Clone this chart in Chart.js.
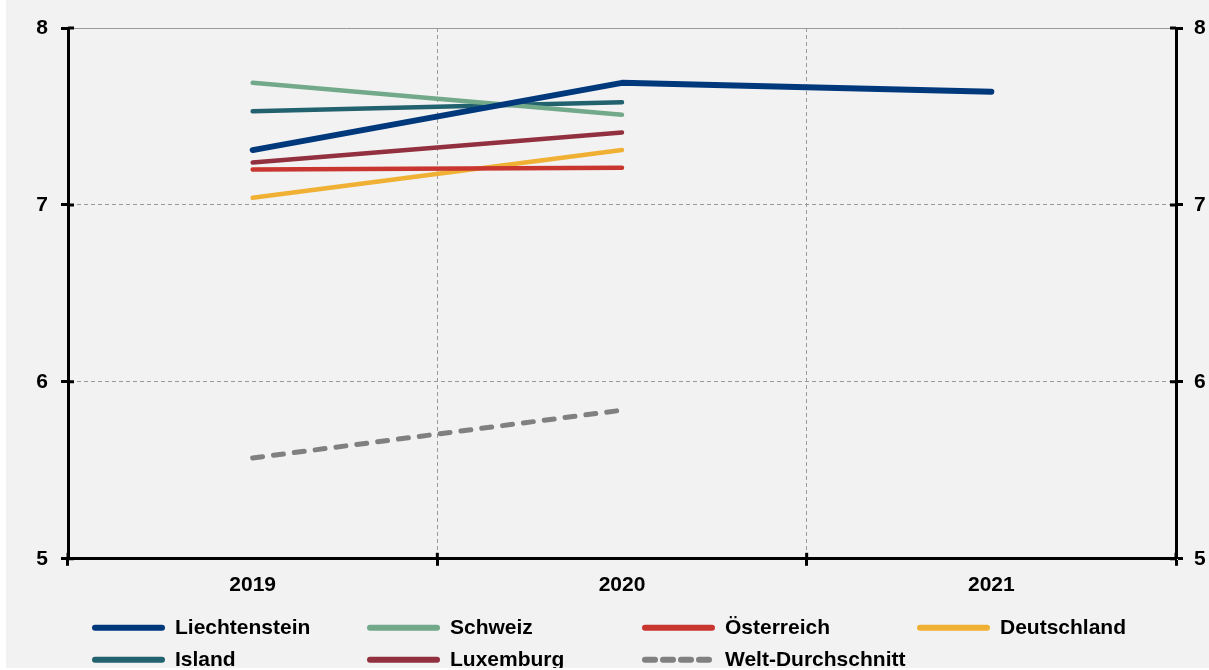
<!DOCTYPE html>
<html>
<head>
<meta charset="utf-8">
<script src="https://cdn.jsdelivr.net/npm/chart.js@4"></script>
<style>
  html, body { margin: 0; padding: 0; background: #ffffff; }
  #wrap { position: absolute; left: 6px; top: 0; width: 1203px; height: 668px; background: #f2f2f2; }
</style>
</head>
<body>
<div id="wrap"><canvas id="chart" width="1203" height="668"></canvas></div>
<script>
const years = ['2019', '2020', '2021'];
const yTicks = [5, 6, 7, 8];

const liechtenstein = [7.31, 7.69, 7.64];
const schweiz = [7.69, 7.51, null];
const oesterreich = [7.20, 7.21, null];
const deutschland = [7.04, 7.31, null];
const island = [7.53, 7.58, null];
const luxemburg = [7.24, 7.41, null];
const welt = [5.57, 5.84, null];

const names = ['Liechtenstein', 'Schweiz', 'Österreich', 'Deutschland', 'Island', 'Luxemburg', 'Welt-Durchschnitt'];
const colors = ['#00387c', '#72a98a', '#c8362f', '#efb034', '#22626f', '#93303f', '#808080'];
const series = [liechtenstein, schweiz, oesterreich, deutschland, island, luxemburg, welt];
const widths = [6, 4.5, 4.5, 4.5, 4.5, 4.5, 5];

const font = { family: 'Liberation Sans, Arial, sans-serif', size: 21, weight: 'bold' };

const datasets = series.map((d, i) => ({
    label: names[i],
    data: d,
    borderColor: colors[i],
    backgroundColor: colors[i],
    borderWidth: widths[i],
    borderCapStyle: 'round',
    borderJoinStyle: 'round',
    borderDash: i === 6 ? [10, 11] : [],
    pointRadius: 0,
    tension: 0,
    yAxisID: 'y'
}));

// inner halves of the tick marks + a column legend
const extras = {
    id: 'extras',
    afterDraw(chart) {
        const { ctx, chartArea: a, scales } = chart;
        ctx.save();
        ctx.strokeStyle = '#000';
        ctx.lineWidth = 3;
        scales.y.ticks.forEach(t => {
            const py = scales.y.getPixelForValue(t.value);
            ctx.beginPath();
            ctx.moveTo(a.left, py); ctx.lineTo(a.left + 6, py);
            ctx.moveTo(a.right - 6, py); ctx.lineTo(a.right, py);
            ctx.stroke();
        });
        const n = scales.x.ticks.length;
        const w = (a.right - a.left) / n;
        for (let i = 0; i <= n; i++) {
            ctx.beginPath();
            ctx.moveTo(a.left + i * w, a.bottom - 6);
            ctx.lineTo(a.left + i * w, a.bottom);
            ctx.stroke();
        }

        // legend
        const colW = 275;
        const x0 = a.left + 24;
        ctx.font = 'bold 21px "Liberation Sans", Arial, sans-serif';
        ctx.textBaseline = 'middle';
        ctx.fillStyle = '#000';
        chart.data.datasets.forEach((ds, i) => {
            const col = i % 4, row = Math.floor(i / 4);
            const lx = x0 + col * colW;
            const ly = a.bottom + 69 + row * 32;
            ctx.beginPath();
            ctx.lineCap = 'round';
            ctx.lineWidth = 6;
            ctx.strokeStyle = ds.borderColor;
            ctx.setLineDash(ds.borderDash.length ? [10, 8] : []);
            ctx.moveTo(lx + 3, ly);
            ctx.lineTo(lx + 70, ly);
            ctx.stroke();
            ctx.setLineDash([]);
            ctx.fillText(ds.label, lx + 83, ly);
        });
        ctx.restore();
    }
};

new Chart(document.getElementById('chart'), {
    type: 'line',
    data: { labels: years, datasets: datasets },
    options: {
        responsive: false,
        animation: false,
        layout: { padding: { left: 31, right: 4, top: 28, bottom: 63 } },
        plugins: { legend: { display: false }, tooltip: { enabled: false } },
        scales: {
            x: {
                offset: true,
                grid: { offset: true, color: '#9a9a9a', lineWidth: 1, tickColor: '#000', tickWidth: 3, tickLength: 7 },
                border: { color: '#000', width: 3, dash: [4, 3] },
                ticks: { color: '#000', font: font, padding: 7 }
            },
            y: {
                position: 'left',
                min: yTicks[0],
                max: yTicks[yTicks.length - 1],
                afterBuildTicks: s => { s.ticks = yTicks.map(v => ({ value: v })); },
                afterFit: s => { s.width = 31; },
                grid: { color: '#9a9a9a', lineWidth: 1, tickColor: '#000', tickWidth: 3, tickLength: 7 },
                border: { color: '#000', width: 3, dash: c => (c.tick && c.tick.value === 8) ? [] : [4, 3] },
                ticks: { color: '#000', font: font, padding: 13 }
            },
            y2: {
                position: 'right',
                min: yTicks[0],
                max: yTicks[yTicks.length - 1],
                afterBuildTicks: s => { s.ticks = yTicks.map(v => ({ value: v })); },
                afterFit: s => { s.width = 29; },
                grid: { drawOnChartArea: false, tickColor: '#000', tickWidth: 3, tickLength: 7 },
                border: { color: '#000', width: 3 },
                ticks: { color: '#000', font: font, padding: 11 }
            }
        }
    },
    plugins: [extras]
});
</script>
</body>
</html>
